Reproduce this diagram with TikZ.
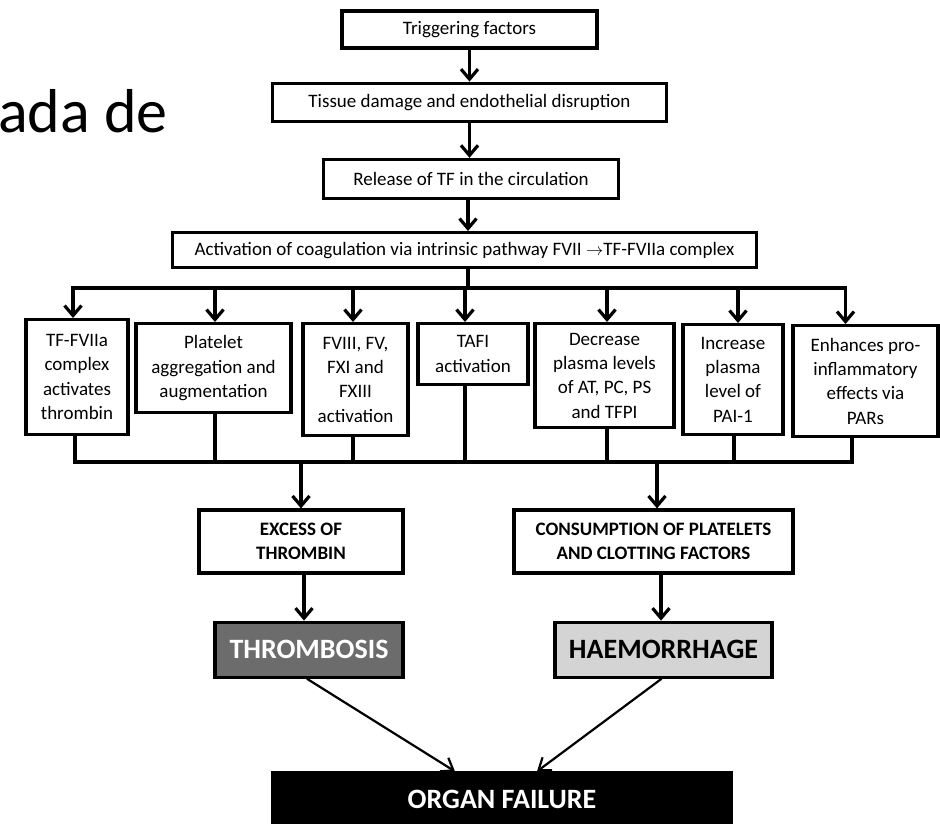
\documentclass[tikz,border=0pt]{standalone}
\usepackage{fontspec}
\setmainfont{Carlito}
\usepackage{xcolor}
\definecolor{dicInk}{RGB}{0,0,0}
\definecolor{dicDark}{RGB}{108,108,108}
\definecolor{dicLight}{RGB}{212,212,212}
\usepackage{tikz}
\usetikzlibrary{positioning,arrows.meta,calc}
\newcommand{\dicsize}{\fontsize{19}{24.3}\selectfont}
\newcommand{\dicbold}{\fontsize{19}{24.6}\selectfont\bfseries}
\tikzset{
  dic-box/.style={draw=dicInk,line width=3.2pt,fill=white,text=dicInk,align=flush center,
    inner sep=0pt,font=\dicsize},
  dic-step/.style={dic-box,anchor=north},
  dic-res/.style={dic-box,font=\dicbold,minimum height=63pt},
  dic-out/.style={draw=dicInk,line width=3.2pt,inner sep=0pt,minimum height=55pt,
    font=\fontsize{28}{30}\selectfont\bfseries},
  dic-arrow/.style={-{Straight Barb[length=10pt,width=17pt]},line width=3.2pt,dicInk},
  dic-line/.style={line width=3.2pt,dicInk},
  dic-thin/.style={-{Straight Barb[length=11pt,width=16pt]},line width=2.2pt,dicInk},
}

\begin{document}
\begin{tikzpicture}[x=1pt,y=-1pt]
  \clip (0,0) rectangle (940,823);
  \fill[white] (0,0) rectangle (940,823);

  % slide title, cut at the left edge
  \node[anchor=base west,inner sep=0pt,font=\fontsize{62}{62}\selectfont] (title) at (-2,132) {ada de};

  % trigger chain
  \node[dic-box,minimum width=255pt,minimum height=37pt] (trig) at (469.5,29.5) {Triggering factors};
  \node[dic-box,below=32pt of trig,minimum width=394pt,minimum height=38pt] (tissue) {Tissue damage and endothelial disruption};
  \node[dic-box,below=35pt of tissue,xshift=1.5pt,minimum width=295pt,minimum height=39pt] (release) {Release of TF in the circulation};
  \node[dic-box,below=31pt of release,xshift=-6.5pt,minimum width=584pt,minimum height=35pt] (coag) {Activation of coagulation via intrinsic pathway FVII $\rightarrow$TF-FVIIa complex};

  % effects row
  \coordinate (bus) at (468,288);
  \coordinate (sink) at (468,462);
  \node[dic-step,text width=102pt,minimum height=115pt] (e1) at (77,318) {TF-FVIIa\\complex\\activates\\thrombin};
  \node[dic-step,text width=155pt,minimum height=89pt] (e2) at (213.5,322) {Platelet\\aggregation and\\augmentation};
  \node[dic-step,text width=105pt,minimum height=112pt] (e3) at (355.5,322) {FVIII, FV,\\FXI and\\FXIII\\activation};
  \node[dic-step,text width=110pt,minimum height=61pt] (e4) at (473,322) {TAFI\\activation};
  \node[dic-step,text width=139pt,minimum height=104pt] (e5) at (604.5,322) {Decrease\\plasma levels\\of AT, PC, PS\\and TFPI};
  \node[dic-step,text width=100pt,minimum height=110pt] (e6) at (733,323) {Increase\\plasma\\level of\\PAI-1};
  \node[dic-step,text width=145pt,minimum height=111pt] (e7) at (865.5,324) {Enhances pro-\\inflammatory\\effects via\\PARs};

  % outcomes
  \node[dic-res,minimum width=204pt] (excess) at (301,541.5) {EXCESS OF\\THROMBIN};
  \node[dic-res,minimum width=279pt] (consume) at (653.5,541.5) {CONSUMPTION OF PLATELETS\\AND CLOTTING FACTORS};
  \node[dic-out,below=46pt of excess,xshift=8pt,minimum width=188pt,fill=dicDark,text=white] (thromb) {THROMBOSIS};
  \node[dic-out,below=46pt of consume,xshift=10pt,minimum width=217pt,fill=dicLight,text=dicInk] (haem) {HAEMORRHAGE};
  \node[dic-out,minimum width=458pt,minimum height=52pt,fill=dicInk,text=white,
    font=\fontsize{28}{30}\selectfont\bfseries] (organ) at (502,799) {ORGAN FAILURE};

  % edges
  \draw[dic-arrow] (trig) -- (tissue);
  \draw[dic-arrow] (tissue.south) -- (tissue.south |- release.north);
  \draw[dic-arrow] (release.south -| bus) -- (bus |- coag.north);
  \draw[dic-arrow] (coag.south -| bus) -- (bus) -| ([xshift=-4pt]e1.north);
  \draw[dic-arrow] (bus) -| ([xshift=-20pt]e7.north);
  \foreach \n/\d in {e2/1.5,e3/-2.5,e4/-8,e5/2.5,e6/5}
    \draw[dic-arrow] ([xshift=\d pt]\n.north |- bus) -- ([xshift=\d pt]\n.north);
  \draw[dic-line] ([xshift=-2pt]e1.south) |- (sink) -| ([xshift=-13.5pt]e7.south);
  \foreach \n/\d in {e2/1.5,e3/-2.5,e4/-8,e5/2.5,e6/1}
    \draw[dic-line] ([xshift=\d pt]\n.south) -- ([xshift=\d pt]\n.south |- sink);
  \draw[dic-arrow] (sink -| excess.north) -- (excess.north);
  \draw[dic-arrow] ([xshift=3.5pt]sink -| consume.north) -- ([xshift=3.5pt]consume.north);
  \draw[dic-arrow] ([xshift=3pt]excess.south) -- ([xshift=3pt]excess.south |- thromb.north);
  \draw[dic-arrow] ([xshift=7.5pt]consume.south) -- ([xshift=7.5pt]consume.south |- haem.north);
  \draw[dic-thin] ([xshift=-2pt]thromb.south) -- ([xshift=-47pt]organ.north);
  \draw[dic-thin] ([xshift=-2pt]haem.south) -- ([xshift=35pt]organ.north);
\end{tikzpicture}
\end{document}
